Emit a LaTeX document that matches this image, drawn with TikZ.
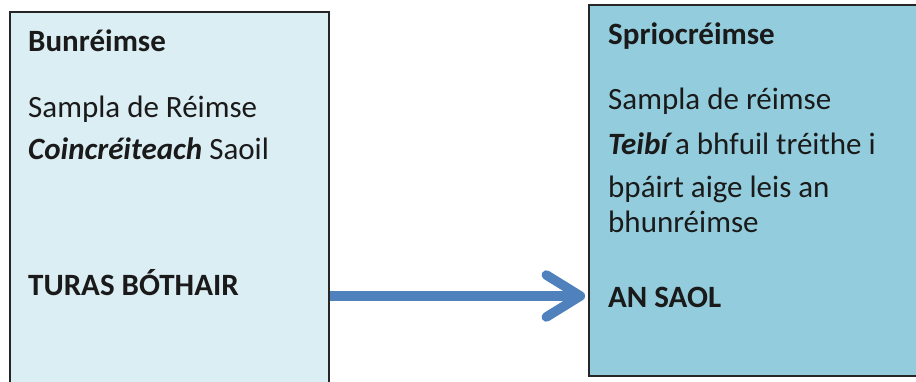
\documentclass[tikz,border=0pt]{standalone}
\usepackage{fontspec}
\setmainfont{Carlito}
\usetikzlibrary{arrows.meta}
\definecolor{lightaqua}{HTML}{DBEEF4}
\definecolor{midaqua}{HTML}{93CDDD}
\definecolor{arrowblue}{HTML}{4F81BD}
\definecolor{txt}{HTML}{1A1A1A}
\tikzset{
  box/.style={draw=black!85, line width=1.8pt, rectangle, inner sep=0pt},
  txtline/.style={anchor=base west, inner sep=0pt, text=txt, font=\fontsize{31}{37}\selectfont},
  flowarrow/.style={draw=arrowblue, line width=9.5pt, -{Straight Barb[length=34pt,width=42pt,round]}}
}
\begin{document}
\begin{tikzpicture}[x=1pt,y=-1pt]
\useasboundingbox (0,0) rectangle (916,382);
\clip (0,0) rectangle (916,382);
\fill[white] (0,0) rectangle (916,382);
\node[box, fill=lightaqua, minimum width=319pt, minimum height=378pt] (lbox) at (169.5,201) {};
\node[box, fill=midaqua, minimum width=341pt, minimum height=371pt] (rbox) at (759.5,190.5) {};
% left texts
\node[txtline] (l1) at (28,52) {\bfseries Bunréimse};
\node[txtline] (l2) at (28,118) {Sampla de Réimse};
\node[txtline] (l3) at (28,160) {\bfseries\itshape Coincréiteach\mdseries\upshape{} Saoil};
\node[txtline] (l4) at (28,295) {\bfseries TURAS BÓTHAIR};
% right texts
\node[txtline] (r1) at (608,45) {\bfseries Spriocréimse};
\node[txtline] (r2) at (608,110) {Sampla de réimse};
\node[txtline] (r3) at (608,155) {\bfseries\itshape Teibí\mdseries\upshape{} a bhfuil tréithe i};
\node[txtline] (r4) at (608,198) {bpáirt aige leis an};
\node[txtline] (r5) at (608,233) {bhunréimse};
\node[txtline] (r6) at (608,308) {\bfseries AN SAOL};
% arrow
\coordinate (ay) at (0,296);
\draw[flowarrow] (lbox.east |- ay) -- ([xshift=-3pt]rbox.west |- ay);
\end{tikzpicture}
\end{document}
